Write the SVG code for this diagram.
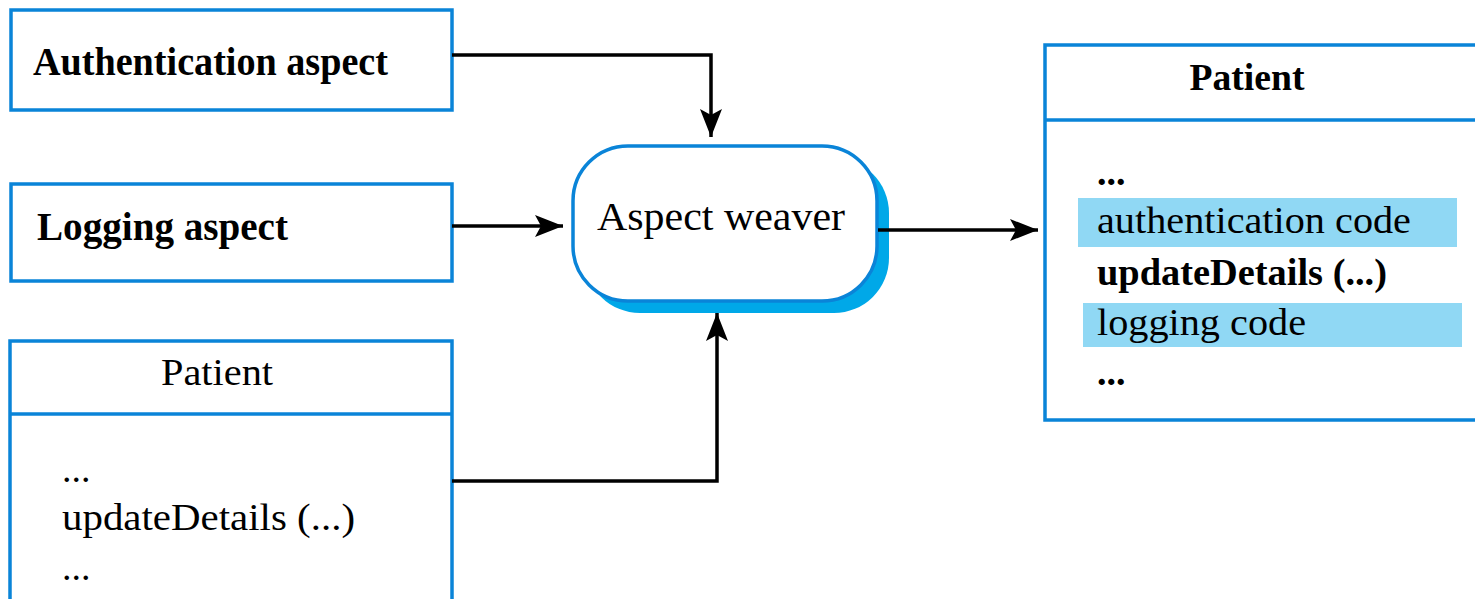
<svg xmlns="http://www.w3.org/2000/svg" width="1475" height="599" viewBox="0 0 1475 599">
  <style>
    .box { fill: #ffffff; stroke: #0a84d8; stroke-width: 3.5; }
    .hl { fill: #90d8f4; }
    .t { font-family: "Liberation Serif", "Times New Roman", serif; fill: #000000; }
    .b { font-weight: bold; }
    .conn { fill: none; stroke: #000000; stroke-width: 3.5; stroke-linejoin: miter; }
  </style>
  <defs>
    <marker id="arrow" markerUnits="userSpaceOnUse" markerWidth="32" markerHeight="24" refX="28" refY="11" orient="auto">
      <path d="M0,0 L28,11 L0,22 L6,11 Z" fill="#000000"/>
    </marker>
  </defs>

  <rect width="1475" height="599" fill="#ffffff"/>

  <!-- Authentication aspect -->
  <g id="auth-aspect">
    <rect class="box" x="11" y="10" width="441" height="100"/>
    <text class="t b" x="33" y="75" font-size="40" textLength="355" lengthAdjust="spacingAndGlyphs">Authentication aspect</text>
  </g>

  <!-- Logging aspect -->
  <g id="logging-aspect">
    <rect class="box" x="11" y="184" width="441" height="97"/>
    <text class="t b" x="37" y="240" font-size="40" textLength="251" lengthAdjust="spacingAndGlyphs">Logging aspect</text>
  </g>

  <!-- Patient class before weaving -->
  <g id="patient-source">
    <rect class="box" x="10" y="341" width="442" height="270"/>
    <line class="box" x1="10" y1="414" x2="452" y2="414"/>
    <text class="t" x="217" y="385" font-size="38" text-anchor="middle" textLength="112" lengthAdjust="spacingAndGlyphs">Patient</text>
    <text class="t" x="62" y="482" font-size="38">...</text>
    <text class="t" x="62" y="530" font-size="38" textLength="293" lengthAdjust="spacingAndGlyphs">updateDetails (...)</text>
    <text class="t" x="62" y="580" font-size="38">...</text>
  </g>

  <!-- Aspect weaver -->
  <g id="aspect-weaver">
    <rect x="585" y="158" width="304" height="155" rx="55" ry="55" fill="#00a8e8"/>
    <rect class="box" x="573" y="146" width="304" height="155" rx="55" ry="55"/>
    <text class="t" x="597" y="230" font-size="40" textLength="248" lengthAdjust="spacingAndGlyphs">Aspect weaver</text>
  </g>

  <!-- Patient class after weaving -->
  <g id="patient-woven">
    <rect class="box" x="1045" y="45" width="445" height="375"/>
    <line class="box" x1="1045" y1="120" x2="1490" y2="120"/>
    <text class="t b" x="1247" y="90" font-size="38" text-anchor="middle" textLength="115" lengthAdjust="spacingAndGlyphs">Patient</text>
    <text class="t b" x="1097" y="185" font-size="38">...</text>
    <rect class="hl" x="1078" y="198" width="379" height="49"/>
    <text class="t" x="1097" y="233" font-size="38" textLength="314" lengthAdjust="spacingAndGlyphs">authentication code</text>
    <text class="t b" x="1097" y="285" font-size="38" textLength="290" lengthAdjust="spacingAndGlyphs">updateDetails (...)</text>
    <rect class="hl" x="1083" y="303" width="379" height="44"/>
    <text class="t" x="1097" y="335" font-size="38" textLength="209" lengthAdjust="spacingAndGlyphs">logging code</text>
    <text class="t b" x="1097" y="385" font-size="38">...</text>
  </g>

  <!-- Connectors -->
  <g id="connectors">
    <path class="conn" d="M452,55 H711 V137" marker-end="url(#arrow)"/>
    <path class="conn" d="M452,226 H563" marker-end="url(#arrow)"/>
    <path class="conn" d="M452,481 H717 V313" marker-end="url(#arrow)"/>
    <path class="conn" d="M878,230 H1038" marker-end="url(#arrow)"/>
  </g>
</svg>
